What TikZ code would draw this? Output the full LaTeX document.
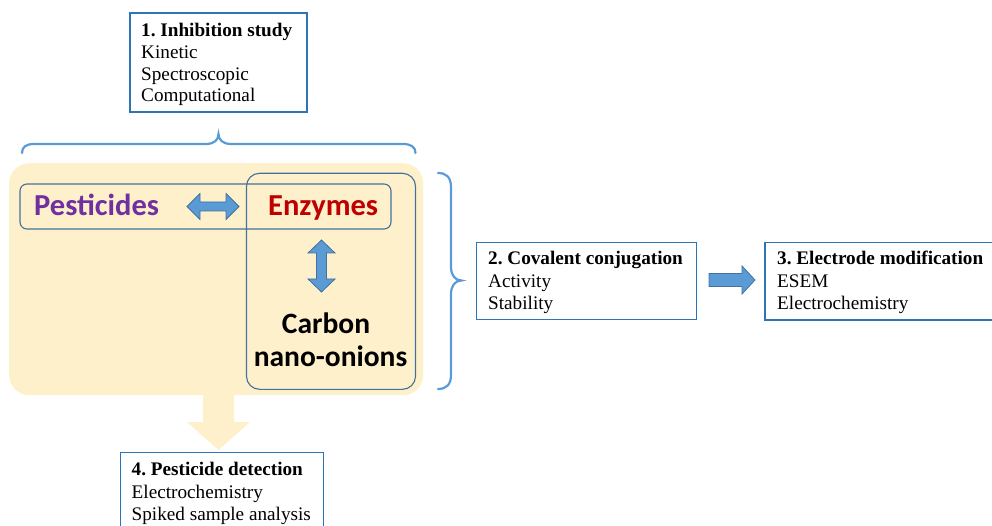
\documentclass[tikz,border=0pt]{standalone}
\usepackage{fontspec}
\setmainfont{Liberation Serif}
\newfontfamily\calfont{Carlito}
\definecolor{ybg}{HTML}{FFF0CC}
\definecolor{afill}{HTML}{5B9BD5}
\definecolor{aline}{HTML}{41719C}
\definecolor{bline}{HTML}{2E75B6}
\definecolor{bracecol}{HTML}{5B9BD5}
\definecolor{purp}{HTML}{7030A0}
\definecolor{darkred}{HTML}{C00000}
\frenchspacing
\begin{document}
\frenchspacing
\begin{tikzpicture}[x=1pt,y=-1pt,
  tbox/.style={draw=bline, line width=1.2pt, inner sep=0pt, outer sep=0pt, anchor=north west},
  rbox/.style={draw=aline, line width=1.1pt, inner sep=0pt, outer sep=0pt, anchor=north west},
  ln/.style={font=\fontsize{19.2}{22}\selectfont, inner sep=0pt, anchor=base west},
  big/.style={font=\calfont\bfseries\fontsize{29.5}{32}\selectfont, inner sep=0pt},
  bigger/.style={font=\calfont\bfseries\fontsize{30.5}{32}\selectfont, inner sep=0pt},
  blockarrow/.style={fill=afill, draw=aline, line width=0.8pt, line join=miter},
  bracestyle/.style={draw=bracecol, line width=2.2pt, line cap=round}]
\useasboundingbox (0,0) rectangle (992,526);

% background panel
\node[fill=ybg, rounded corners=20pt, minimum width=414pt, minimum height=232pt, inner sep=0pt, anchor=north west] (bg) at (9,163) {};
% yellow down arrow
\coordinate (ya) at (218.5,390);
\fill[ybg] (203,390) -- (234,390) -- (234,422) -- (250,422) -- (218.5,450) -- (187,422) -- (203,422) -- cycle;

% rounded boxes
\node[rbox, rounded corners=7pt, minimum width=371pt, minimum height=45pt] (pbox) at (20,184) {};
\node[rbox, rounded corners=13pt, minimum width=169pt, minimum height=216pt] (ebox) at (246.5,173.3) {};

% big labels
\node[bigger, text=purp, anchor=base west] (pest) at (34,215.5) {Pesticides};
\node[bigger, text=darkred, anchor=base west] (enz) at (268,215.5) {Enzymes};
\node[big, anchor=base] (cno1) at (326,333) {Carbon};
\node[big, anchor=base] (cno2) at (330.5,366.5) {nano-onions};

% double arrows
\draw[blockarrow] (187,206.5) -- (200,193.5) -- (200,202) -- (226,202) -- (226,193.5) -- (239,206.5) -- (226,219.5) -- (226,211) -- (200,211) -- (200,219.5) -- cycle;
\draw[blockarrow] (321.5,240) -- (335,253) -- (326.5,253) -- (326.5,279) -- (335,279) -- (321.5,292) -- (308,279) -- (316.5,279) -- (316.5,253) -- (308,253) -- cycle;

% box 1
\node[tbox, minimum width=177pt, minimum height=99pt] (b1) at (130,13) {};
\node[ln] (b1a) at (141,37) {\bfseries 1. Inhibition study};
\node[ln] (b1b) at (141,58.7) {Kinetic};
\node[ln] (b1c) at (141,80.4) {Spectroscopic};
\node[ln] (b1d) at (141,102) {Computational};

% box 2
\node[tbox, minimum width=220pt, minimum height=77pt] (b2) at (476.5,242.3) {};
\node[ln] (b2a) at (488,265) {\bfseries 2. Covalent conjugation};
\node[ln] (b2b) at (488,287.3) {Activity};
\node[ln] (b2c) at (488,309.3) {Stability};

% box 3
\node[tbox, minimum width=240pt, minimum height=77.5pt] (b3) at (765,242.5) {};
\node[ln] (b3a) at (777,265) {\bfseries 3. Electrode modification};
\node[ln] (b3b) at (777,287.3) {ESEM};
\node[ln] (b3c) at (777,309.3) {Electrochemistry};

% box 4
\node[tbox, minimum width=203pt, minimum height=80pt] (b4) at (120.5,452.5) {};
\node[ln] (b4a) at (131.5,475) {\bfseries 4. Pesticide detection};
\node[ln] (b4b) at (131.5,498) {Electrochemistry};
\node[ln] (b4c) at (131.5,520) {Spiked sample analysis};

% arrow box2 -> box3
\draw[blockarrow] (709,273.5) -- (742,273.5) -- (742,266) -- (755,280) -- (742,294) -- (742,286.5) -- (709,286.5) -- cycle;

% top brace
\draw[bracestyle] (22,153) .. controls (22,147) and (26,144) .. (34,144) -- (206,144)
  .. controls (214,144) and (218.5,140) .. (218.5,134)
  .. controls (218.5,140) and (223,144) .. (231,144) -- (403,144)
  .. controls (411,144) and (415.5,147) .. (415.5,153);
% right brace
\draw[bracestyle] (438,173) .. controls (446,173) and (451,177) .. (451,187) -- (451,267)
  .. controls (451,275) and (455,280.5) .. (461.5,280.5)
  .. controls (455,280.5) and (451,286) .. (451,294) -- (451,375)
  .. controls (451,385) and (446,389) .. (438,389);
\end{tikzpicture}
\end{document}
